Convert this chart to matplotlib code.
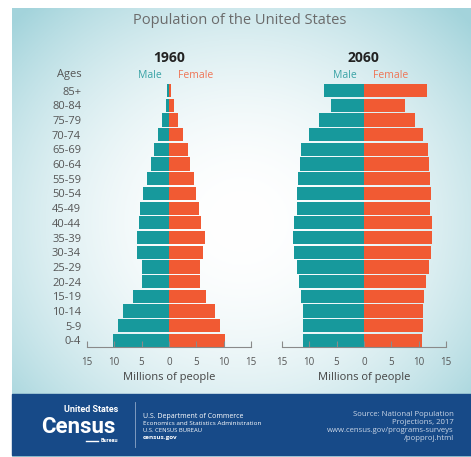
import numpy as np
import matplotlib.pyplot as plt
from matplotlib.patches import Rectangle

plt.rcParams['font.family'] = ['Open Sans', 'DejaVu Sans']

# data (millions), youngest to oldest
ages = ['0-4', '5-9', '10-14', '15-19', '20-24', '25-29', '30-34', '35-39', '40-44',
        '45-49', '50-54', '55-59', '60-64', '65-69', '70-74', '75-79', '80-84', '85+']
male_1960 = [10.2, 9.3, 8.3, 6.5, 5.0, 5.0, 5.8, 5.9, 5.5, 5.2, 4.7, 4.0, 3.2, 2.7, 2.0, 1.2, 0.6, 0.3]
female_1960 = [10.2, 9.3, 8.4, 6.7, 5.7, 5.7, 6.2, 6.5, 5.9, 5.5, 4.9, 4.5, 3.8, 3.4, 2.6, 1.6, 1.0, 0.4]
male_2060 = [11.2, 11.2, 11.2, 11.4, 11.8, 12.2, 12.7, 12.9, 12.7, 12.3, 12.3, 12.0, 11.7, 11.4, 10.0, 8.2, 6.1, 7.3]
female_2060 = [10.6, 10.7, 10.7, 10.9, 11.3, 11.8, 12.2, 12.4, 12.4, 12.1, 12.2, 12.1, 11.8, 11.6, 10.7, 9.4, 7.5, 11.5]
xticks = [-15, -10, -5, 0, 5, 10, 15]
xtick_labels = ['15', '10', '5', '0', '5', '10', '15']

W, H = 471, 457
MALE = '#17999c'
FEMALE = '#f15a33'


def fx(x):
    return x / W


def fy(y):
    return 1 - y / H


fig = plt.figure(figsize=(W / 100, H / 100), dpi=100)

# gradient background
bg = fig.add_axes([fx(12), 0, 1 - fx(12), 1 - 8 / H])
gx, gy = np.meshgrid(np.linspace(-1, 1, 300), np.linspace(-1, 1, 300))
r = np.clip(np.sqrt((gx * 0.95) ** 2 + ((gy + 0.05) * 1.0) ** 2) / 1.3, 0, 1) ** 2.0
edge = np.array([0.64, 0.83, 0.86])
img = (1 - r[..., None]) * np.array([1.0, 1.0, 1.0]) + r[..., None] * edge
bg.imshow(img, aspect='auto', extent=[0, 1, 0, 1])
bg.axis('off')

# footer band
fig.patches.append(Rectangle((fx(12), fy(455)), 1 - fx(12), fy(394) - fy(455),
                             transform=fig.transFigure, color='#174a88', zorder=1))

y = np.arange(len(ages))
panels = [(86.7, '1960', male_1960, female_1960), (281.7, '2060', male_2060, female_2060)]
for i, (left, year, male, female) in enumerate(panels):
    ax = fig.add_axes([fx(left), fy(347), 164.5 / W, (347 - 84) / H])
    ax.set_facecolor('none')
    ax.barh(y, -np.array(male), height=0.9, color=MALE)
    ax.barh(y, female, height=0.9, color=FEMALE)
    ax.set_xlim(-15, 15)
    ax.set_ylim(-0.45, 17.45)
    for s in ['top', 'right', 'left']:
        ax.spines[s].set_visible(False)
    ax.spines['bottom'].set_color('#8a8a8a')
    ax.spines['bottom'].set_linewidth(0.8)
    ax.set_xticks(xticks, xtick_labels)
    ax.tick_params(axis='x', direction='in', length=4, width=0.8, color='#8a8a8a',
                   labelsize=7, labelcolor='#555555', pad=7)
    if i == 0:
        ax.set_yticks(y, ages)
        ax.tick_params(axis='y', length=0, labelsize=8, labelcolor='#555555', pad=4)
    else:
        ax.set_yticks([])
    ax.set_xlabel('Millions of people', fontsize=8, color='#444444', labelpad=3)
    cx = left + 82.2
    fig.text(fx(cx), fy(58), year, ha='center', va='center', fontsize=10,
             fontweight='bold', color='#222222')
    fig.text(fx(cx - 19), fy(75), 'Male', ha='center', va='center', fontsize=7.5, color='#3aa3a6')
    fig.text(fx(cx + 27), fy(75), 'Female', ha='center', va='center', fontsize=7.5, color='#ef7556')

fig.text(fx(82), fy(75), 'Ages', ha='right', va='center', fontsize=8, color='#555555')
fig.text(fx(240), fy(21), 'Population of the United States', ha='center', va='center',
         fontsize=10.5, color='#6b6b6b')

# footer text
logo = ['Roboto', 'DejaVu Sans']
fig.text(fx(118), fy(410), 'United States', ha='right', va='center', fontsize=6.5,
         fontweight='bold', color='white', family=logo)
fig.text(fx(116), fy(427), 'Census', ha='right', va='center', fontsize=16,
         fontweight='bold', color='white', family=logo)
fig.text(fx(118), fy(441), 'Bureau', ha='right', va='center', fontsize=4,
         fontweight='bold', color='white', family=logo)
fig.add_artist(plt.Line2D([fx(86), fx(98)], [fy(441), fy(441)], color='white', lw=1))
fig.add_artist(plt.Line2D([fx(135), fx(135)], [fy(402), fy(447)], color='#8fa8c8', lw=0.6))
dept = [('U.S. Department of Commerce', 416.5, 5, 'normal'),
        ('Economics and Statistics Administration', 423.5, 4.6, 'normal'),
        ('U.S. CENSUS BUREAU', 430.5, 4.2, 'normal'),
        ('census.gov', 437.5, 4.6, 'bold')]
for txt, yy, fs, fw in dept:
    fig.text(fx(143), fy(yy), txt, ha='left', va='center', fontsize=fs,
             fontweight=fw, color='white')
source = ['Source: National Population', 'Projections, 2017',
          'www.census.gov/programs-surveys', '/popproj.html']
for k, txt in enumerate(source):
    fig.text(fx(454), fy(414 + k * 8.3), txt, ha='right', va='center', fontsize=5.6,
             color='#c9d5e6')

fig.savefig('out.png', dpi=100)
